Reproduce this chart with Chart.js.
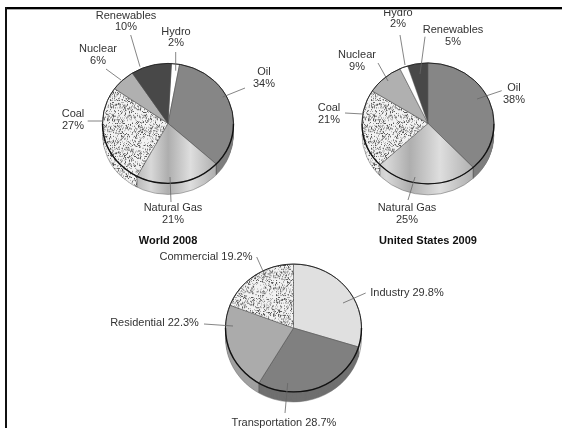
<!DOCTYPE html>
<html><head><meta charset="utf-8">
<style>
html,body{margin:0;padding:0;background:#fff;width:562px;height:428px;overflow:hidden}
canvas{position:absolute;filter:blur(0.45px)}
#wrapA{position:absolute;left:40px;top:0;width:256px;height:248px}
#wrapB{position:absolute;left:301px;top:0;width:254px;height:248px}
#wrapC{position:absolute;left:100px;top:248px;width:387px;height:180px}
.ft{position:absolute;left:5px;top:7px;width:557px;height:2px;background:#000;border-bottom:1px solid #aaa}
.fl{position:absolute;left:5px;top:7px;width:2px;height:421px;background:#111}
</style>
<script src="https://cdn.jsdelivr.net/npm/chart.js@4/dist/chart.umd.min.js"></script>
</head><body>
<div id="wrapA"><canvas id="a"></canvas></div>
<div id="wrapB"><canvas id="b"></canvas></div>
<div id="wrapC"><canvas id="c"></canvas></div>
<div class="ft"></div><div class="fl"></div>
<script>
const worldLabels = ['Hydro','Oil','Natural Gas','Coal','Nuclear','Renewables'];
const worldValues = [2,34,21,27,6,10];
const usLabels = ['Renewables','Oil','Natural Gas','Coal','Nuclear','Hydro'];
const usValues = [5,38,25,21,9,2];
const sectorLabels = ['Industry','Transportation','Residential','Commercial'];
const sectorValues = [29.8,28.7,22.3,19.2];
const worldTitle = 'World 2008';
const usTitle = 'United States 2009';

// annotation layout, page pixels: text lines centre x, y of each line, leader from/to
const worldNotes = [
 {t:['Hydro','2%'],x:176,y:[32,43],l:[175.7,52,175.7,70.7]},
 {t:['Oil','34%'],x:264,y:[72,84],l:[245,88,222.7,97]},
 {t:['Natural Gas','21%'],x:173,y:[208,220],l:[171,202,170,177]},
 {t:['Coal','27%'],x:73,y:[114,126],l:[87.7,121,103,121]},
 {t:['Nuclear','6%'],x:98,y:[49,61],l:[106,69,121,80]},
 {t:['Renewables','10%'],x:126,y:[16,27],l:[130.7,35,140,66.7]}
];
const usNotes = [
 {t:['Renewables','5%'],x:453,y:[30,42],l:[425,36.7,420,74]},
 {t:['Oil','38%'],x:514,y:[88,100],l:[501.7,90.7,477,99]},
 {t:['Natural Gas','25%'],x:407,y:[208,220],l:[408,200,415,177]},
 {t:['Coal','21%'],x:329,y:[108,120],l:[345,113,363,114]},
 {t:['Nuclear','9%'],x:357,y:[55,67],l:[378,63,388,81]},
 {t:['Hydro','2%'],x:398,y:[13,24],l:[400,35,405,65]}
];
const sectorNotes = [
 {t:['Industry 29.8%'],x:407,y:[293],l:[365.7,293,343,303]},
 {t:['Transportation 28.7%'],x:284,y:[423],l:[285,413,287.7,383]},
 {t:['Residential 22.3%'],x:154.5,y:[323],l:[204,324,233,326]},
 {t:['Commercial 19.2%'],x:206,y:[257],l:[256.7,257,265.7,277]}
];

function stipple(ctx){
  const N=53,c=document.createElement('canvas');c.width=c.height=N;
  const g=c.getContext('2d');g.fillStyle='#f2f2f2';g.fillRect(0,0,N,N);
  for(let x=0;x<N;x++)for(let y=0;y<N;y++){
    let h=Math.imul(x,374761393)+Math.imul(y,668265263)|0;
    h=Math.imul(h^(h>>>13),1274126177);h=(h^(h>>>16))>>>0;
    const v=h%100;
    if(v<13){g.fillStyle='#555555';g.fillRect(x,y,1,1);}
    else if(v<30){g.fillStyle='#a8a8a8';g.fillRect(x,y,1,1);}
  }
  return ctx.createPattern(c,'repeat');
}
function banded(ctx,x0,x1){
  const g=ctx.createLinearGradient(x0,0,x1,0);
  g.addColorStop(0,'#b0b0b0');g.addColorStop(.22,'#d8d8d8');g.addColorStop(.42,'#aeaeae');
  g.addColorStop(.68,'#dedede');g.addColorStop(1,'#aaaaaa');
  return g;
}
const pie3d={
  id:'pie3d',
  beforeDatasetDraw(chart,args,o){
    const ctx=chart.ctx,arcs=chart.getDatasetMeta(0).data,a0=arcs[0];
    ctx.save();
    ctx.translate(a0.x,a0.y);ctx.scale(1,o.squash);ctx.translate(-a0.x,-a0.y);
    const d=o.depth/o.squash,R=a0.outerRadius,fills=chart.data.datasets[0].backgroundColor;
    for(let k=d;k>=0.5;k-=0.5){
      arcs.forEach((e,i)=>{
        ctx.beginPath();ctx.moveTo(e.x,e.y+k);ctx.arc(e.x,e.y+k,R,e.startAngle,e.endAngle);ctx.closePath();
        ctx.fillStyle=o.side[i]||fills[i];ctx.fill();
      });
    }
    // rim dividers on the visible front, and the lower edge
    ctx.strokeStyle='#444';ctx.lineWidth=.6;
    arcs.forEach(e=>{
      const s=Math.sin(e.startAngle),c=Math.cos(e.startAngle);
      if(s>0){ctx.beginPath();ctx.moveTo(e.x+R*c,e.y+R*s);ctx.lineTo(e.x+R*c,e.y+R*s+d);ctx.stroke();}
    });
    ctx.strokeStyle='#777';ctx.lineWidth=.6;
    ctx.beginPath();ctx.arc(a0.x,a0.y+d,R,0,Math.PI);ctx.stroke();
  },
  afterDatasetDraw(chart){
    const ctx=chart.ctx,a0=chart.getDatasetMeta(0).data[0];
    ctx.strokeStyle='#222';ctx.lineWidth=1;
    ctx.beginPath();ctx.arc(a0.x,a0.y,a0.outerRadius,Math.PI,Math.PI*2);ctx.stroke();
    ctx.strokeStyle='#111';ctx.lineWidth=1.4;
    ctx.beginPath();ctx.arc(a0.x,a0.y,a0.outerRadius,0,Math.PI);ctx.stroke();
    ctx.restore();
  },
  afterDraw(chart,args,o){
    const ctx=chart.ctx;ctx.save();
    ctx.font='11px "Liberation Sans"';ctx.textAlign='center';ctx.textBaseline='middle';
    o.notes.forEach(n=>{
      ctx.strokeStyle='#666';ctx.lineWidth=.8;
      ctx.beginPath();ctx.moveTo(n.l[0]-o.left,n.l[1]-o.top);ctx.lineTo(n.l[2]-o.left,n.l[3]-o.top);ctx.stroke();
      ctx.fillStyle='#333';
      n.t.forEach((s,i)=>ctx.fillText(s,n.x-o.left,n.y[i]-o.top));
    });
    ctx.restore();
  }
};
Chart.register(pie3d);
function make(id,labels,values,colors,sideFn,cfg){
  const el=document.getElementById(id),ctx=el.getContext('2d');
  const fills=colors(ctx);
  return new Chart(el,{type:'pie',
    data:{labels,datasets:[{data:values,backgroundColor:fills,borderColor:'#555',borderWidth:.6,clip:false,radius:cfg.radius}]},
    options:{responsive:true,maintainAspectRatio:false,animation:false,rotation:cfg.rotation,
      layout:{padding:cfg.padding},events:[],
      plugins:{legend:{display:false},tooltip:{enabled:false},
        title:cfg.title?{display:true,text:cfg.title,position:'bottom',color:'#111',font:{family:'"Liberation Sans"',size:11,weight:'bold'},padding:{top:0,bottom:0}}:{display:false},
        pie3d:{squash:cfg.squash,depth:cfg.depth,notes:cfg.notes,left:cfg.left,top:cfg.top,side:sideFn}}}});
}
make('a',worldLabels,worldValues,ctx=>['#ffffff','#868686',banded(ctx,92,178),stipple(ctx),'#b0b0b0','#484848'],
  ['#fff','#7e7e7e',null,null,'#a8a8a8','#444'],
  {radius:65.5,rotation:3,squash:.916,depth:11,notes:worldNotes,left:40,top:0,title:worldTitle,padding:{top:12,bottom:0}});
make('b',usLabels,usValues,ctx=>['#484848','#868686',banded(ctx,60,176),stipple(ctx),'#b0b0b0','#ffffff'],
  ['#444','#7e7e7e',null,null,'#a8a8a8','#fff'],
  {radius:66,rotation:-18,squash:.916,depth:11,notes:usNotes,left:301,top:0,title:usTitle,padding:{top:12,bottom:0}});
make('c',sectorLabels,sectorValues,ctx=>['#e0e0e0','#808080','#ababab',stipple(ctx)],
  ['#d4d4d4','#707070','#a0a0a0',null],
  {radius:68,rotation:0,squash:.94,depth:10,notes:sectorNotes,left:100,top:248,padding:{top:0,bottom:20}});
</script>
</body></html>
